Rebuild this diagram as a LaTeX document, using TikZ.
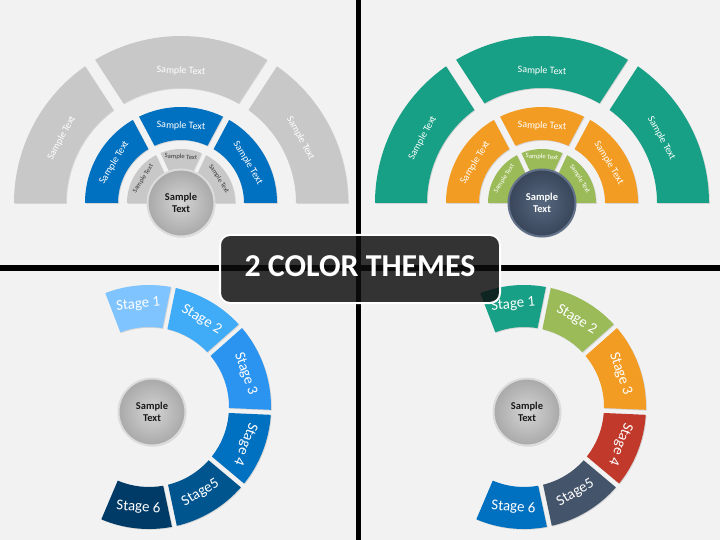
\documentclass[tikz,border=0pt]{standalone}
\usepackage{fontspec}
\setmainfont{Carlito}
\usetikzlibrary{shadows}
\definecolor{bgc}{HTML}{F2F2F2}
\definecolor{grayseg}{HTML}{C8C8C8}
\definecolor{mblue}{HTML}{0070C0}
\definecolor{teal}{HTML}{17A085}
\definecolor{orng}{HTML}{F39C24}
\definecolor{grn}{HTML}{9BBB59}
\definecolor{slate}{HTML}{44546A}
\definecolor{rred}{HTML}{C0392B}
\definecolor{sa}{HTML}{7FC4FE}
\definecolor{sb}{HTML}{40ACF8}
\definecolor{sc}{HTML}{2B93F0}
\definecolor{sd}{HTML}{0070C0}
\definecolor{se}{HTML}{01558F}
\definecolor{sf}{HTML}{003A66}
\definecolor{darktxt}{HTML}{383838}
\definecolor{ballin}{HTML}{D4D4D4}
\definecolor{ballout}{HTML}{A9A9A9}
\definecolor{ballrim}{HTML}{DCDCDC}
\definecolor{dballin}{HTML}{56677E}
\definecolor{dballout}{HTML}{39465A}
\definecolor{dballrim}{HTML}{62728A}
\newcommand\ringseg[8]{%
  \pgfmathsetmacro\rsOA{#2+asin(#6/#5)}%
  \pgfmathsetmacro\rsOB{#3-asin(#7/#5)}%
  \pgfmathsetmacro\rsIA{#2+asin(#6/#4)}%
  \pgfmathsetmacro\rsIB{#3-asin(#7/#4)}%
  \fill[segsty,fill=#8] ([shift={(\rsOA:#5bp)}]#1) arc[start angle=\rsOA,end angle=\rsOB,radius=#5bp]
    -- ([shift={(\rsIB:#4bp)}]#1) arc[start angle=\rsIB,end angle=\rsIA,radius=#4bp] -- cycle;}
\tikzset{
  segsty/.style={drop shadow={shadow xshift=0.8bp,shadow yshift=-0.8bp,opacity=0.25}},
  lbl/.style={text=white,font=\fontsize{10}{12}\selectfont,inner sep=0pt},
  slbl/.style={font=\fontsize{6.7}{8}\selectfont,inner sep=0pt},
  stg/.style={text=white,font=\fontsize{15}{18}\selectfont,inner sep=0pt},
  ctxt/.style={font=\bfseries\fontsize{10.5}{12.5}\selectfont,align=center,inner sep=0pt},
  lball/.style={circle,minimum size=67bp,inner sep=0pt,inner color=ballin,outer color=ballout,
    draw=ballrim,line width=2bp,text=black!90,
    drop shadow={shadow xshift=0.8bp,shadow yshift=-1bp,opacity=0.3}},
  dball/.style={circle,minimum size=67bp,inner sep=0pt,inner color=dballin,outer color=dballout,
    draw=dballrim,line width=2bp,text=white,
    drop shadow={shadow xshift=0.8bp,shadow yshift=-1bp,opacity=0.3}},
  banner/.style={rectangle,rounded corners=10bp,minimum width=280bp,minimum height=68bp,
    fill=black!95,fill opacity=0.83,draw=white,draw opacity=1,line width=2bp},
  bantxt/.style={text=white,font=\bfseries\fontsize{32}{36}\selectfont,inner sep=0pt}
}
\begin{document}
\begin{tikzpicture}[x=1bp,y=1bp]
\useasboundingbox (0,0) rectangle (720,-540);
\fill[bgc] (0,0) rectangle (720,-540);
\draw[line width=4.5bp] (358.5,0) -- (358.5,-540);
\draw[line width=5.5bp] (0,-268) -- (720,-268);
% ---------- top left
\coordinate (tl) at (181,-203);
\ringseg{tl}{0}{57}{115}{167}{0}{6}{grayseg}
\ringseg{tl}{57}{123}{115}{167}{6}{6}{grayseg}
\ringseg{tl}{123}{180}{115}{167}{6}{0}{grayseg}
\ringseg{tl}{0}{62}{63}{96}{0}{3.5}{mblue}
\ringseg{tl}{62}{118}{63}{96}{3.5}{3.5}{mblue}
\ringseg{tl}{118}{180}{63}{96}{3.5}{0}{mblue}
\ringseg{tl}{0}{65}{34}{54}{0}{2.5}{grayseg}
\ringseg{tl}{65}{115}{34}{54}{2.5}{2.5}{grayseg}
\ringseg{tl}{115}{180}{34}{54}{2.5}{0}{grayseg}
\node[lbl,rotate=61.5] (tlo1) at ([shift={(151.5:136bp)}]tl) {Sample Text};
\node[lbl,rotate=-2] (tlo2) at ([shift={(90:132bp)}]tl) {Sample Text};
\node[lbl,rotate=-61.5] (tlo3) at ([shift={(28.5:136bp)}]tl) {Sample Text};
\node[lbl,rotate=59] (tlm1) at ([shift={(149:78bp)}]tl) {Sample Text};
\node[lbl,rotate=-2] (tlm2) at ([shift={(90:77bp)}]tl) {Sample Text};
\node[lbl,rotate=-59] (tlm3) at ([shift={(31:78bp)}]tl) {Sample Text};
\node[slbl,text=darktxt,rotate=57.5] (tli1) at ([shift={(147.5:45bp)}]tl) {Sample Text};
\node[slbl,text=darktxt,rotate=-3] (tli2) at ([shift={(90:46bp)}]tl) {Sample Text};
\node[slbl,text=darktxt,rotate=-57.5] (tli3) at ([shift={(32.5:45bp)}]tl) {Sample Text};
\node[lball,ctxt] (tlc) at (181,-203) {Sample\\Text};
% ---------- top right
\coordinate (tr) at (542,-203);
\ringseg{tr}{0}{57}{115}{167}{0}{6}{teal}
\ringseg{tr}{57}{123}{115}{167}{6}{6}{teal}
\ringseg{tr}{123}{180}{115}{167}{6}{0}{teal}
\ringseg{tr}{0}{62}{63}{96}{0}{3.5}{orng}
\ringseg{tr}{62}{118}{63}{96}{3.5}{3.5}{orng}
\ringseg{tr}{118}{180}{63}{96}{3.5}{0}{orng}
\ringseg{tr}{0}{65}{34}{54}{0}{2.5}{grn}
\ringseg{tr}{65}{115}{34}{54}{2.5}{2.5}{grn}
\ringseg{tr}{115}{180}{34}{54}{2.5}{0}{grn}
\node[lbl,rotate=61.5] (tro1) at ([shift={(151.5:136bp)}]tr) {Sample Text};
\node[lbl,rotate=-2] (tro2) at ([shift={(90:132bp)}]tr) {Sample Text};
\node[lbl,rotate=-61.5] (tro3) at ([shift={(28.5:136bp)}]tr) {Sample Text};
\node[lbl,rotate=59] (trm1) at ([shift={(149:78bp)}]tr) {Sample Text};
\node[lbl,rotate=-2] (trm2) at ([shift={(90:77bp)}]tr) {Sample Text};
\node[lbl,rotate=-59] (trm3) at ([shift={(31:78bp)}]tr) {Sample Text};
\node[slbl,text=white,rotate=57.5] (tri1) at ([shift={(147.5:45bp)}]tr) {Sample Text};
\node[slbl,text=white,rotate=-3] (tri2) at ([shift={(90:46bp)}]tr) {Sample Text};
\node[slbl,text=white,rotate=-57.5] (tri3) at ([shift={(32.5:45bp)}]tr) {Sample Text};
\node[dball,ctxt] (trc) at (542,-203) {Sample\\Text};
% ---------- bottom left
\coordinate (bl) at (149,-407);
\ringseg{bl}{78.5}{111}{80}{122}{2.5}{0}{sa}
\ringseg{bl}{41.5}{78.5}{80}{122}{2.5}{2.5}{sb}
\ringseg{bl}{-2.5}{41.5}{80}{122}{2.5}{2.5}{sc}
\ringseg{bl}{-40}{-2.5}{80}{122}{2.5}{2.5}{sd}
\ringseg{bl}{-78}{-40}{80}{122}{2.5}{2.5}{se}
\ringseg{bl}{-113}{-78}{80}{122}{0}{2.5}{sf}
\node[stg,rotate=5] (bls1) at ([shift={(96:103bp)}]bl) {Stage 1};
\node[stg,rotate=-31] (bls2) at ([shift={(59:102bp)}]bl) {Stage 2};
\node[stg,rotate=-71] (bls3) at ([shift={(19:102bp)}]bl) {Stage 3};
\node[stg,rotate=-111] (bls4) at ([shift={(-21:103bp)}]bl) {Stage 4};
\node[stg,rotate=31] (bls5) at ([shift={(-59:100bp)}]bl) {Stage5};
\node[stg,rotate=-4] (bls6) at ([shift={(-96:101bp)}]bl) {Stage 6};
\node[lball,ctxt] (blc) at (152,-412) {Sample\\Text};
% ---------- bottom right
\coordinate (br) at (524,-407);
\ringseg{br}{78.5}{111}{80}{122}{2.5}{0}{teal}
\ringseg{br}{41.5}{78.5}{80}{122}{2.5}{2.5}{grn}
\ringseg{br}{-2.5}{41.5}{80}{122}{2.5}{2.5}{orng}
\ringseg{br}{-40}{-2.5}{80}{122}{2.5}{2.5}{rred}
\ringseg{br}{-78}{-40}{80}{122}{2.5}{2.5}{slate}
\ringseg{br}{-113}{-78}{80}{122}{0}{2.5}{mblue}
\node[stg,rotate=5] (brs1) at ([shift={(96:103bp)}]br) {Stage 1};
\node[stg,rotate=-31] (brs2) at ([shift={(59:102bp)}]br) {Stage 2};
\node[stg,rotate=-71] (brs3) at ([shift={(19:102bp)}]br) {Stage 3};
\node[stg,rotate=-111] (brs4) at ([shift={(-21:103bp)}]br) {Stage 4};
\node[stg,rotate=31] (brs5) at ([shift={(-59:100bp)}]br) {Stage5};
\node[stg,rotate=-4] (brs6) at ([shift={(-96:101bp)}]br) {Stage 6};
\node[lball,ctxt] (brc) at (527,-412) {Sample\\Text};
% ---------- banner
\node[banner] (ban) at (360,-269) {};
\node[bantxt] (bant) at (360,-266) {2 COLOR THEMES};
\end{tikzpicture}
\end{document}
